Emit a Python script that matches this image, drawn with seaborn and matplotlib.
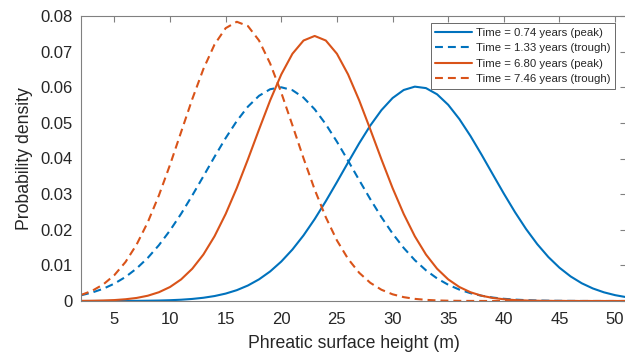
import numpy as np
import pandas as pd
import matplotlib
matplotlib.use("Agg")
import matplotlib.pyplot as plt
from matplotlib.ticker import FuncFormatter
import seaborn as sns

# ---- data ----
height = list(range(2, 52))  # phreatic surface height (m)

t074_peak = [0.00000, 0.00000, 0.00001, 0.00001, 0.00002, 0.00004, 0.00008, 0.00013, 0.00022, 0.00036,
             0.00058, 0.00091, 0.00139, 0.00208, 0.00304, 0.00435, 0.00608, 0.00830, 0.01108, 0.01445,
             0.01843, 0.02299, 0.02802, 0.03338, 0.03888, 0.04427, 0.04926, 0.05358, 0.05697, 0.05923,
             0.06017, 0.05976, 0.05802, 0.05507, 0.05108, 0.04632, 0.04106, 0.03558, 0.03014, 0.02495,
             0.02019, 0.01597, 0.01235, 0.00934, 0.00690, 0.00498, 0.00352, 0.00243, 0.00164, 0.00108]

t133_trough = [0.00160, 0.00238, 0.00344, 0.00488, 0.00675, 0.00914, 0.01210, 0.01566, 0.01981, 0.02450,
               0.02963, 0.03502, 0.04048, 0.04573, 0.05052, 0.05456, 0.05760, 0.05945, 0.05999, 0.05918,
               0.05708, 0.05382, 0.04962, 0.04471, 0.03940, 0.03393, 0.02858, 0.02353, 0.01894, 0.01490,
               0.01146, 0.00862, 0.00634, 0.00456, 0.00320, 0.00220, 0.00148, 0.00097, 0.00062, 0.00039,
               0.00024, 0.00014, 0.00008, 0.00005, 0.00003, 0.00001, 0.00001, 0.00000, 0.00000, 0.00000]

t680_peak = [0.00003, 0.00007, 0.00014, 0.00026, 0.00049, 0.00086, 0.00148, 0.00246, 0.00393, 0.00607,
             0.00906, 0.01305, 0.01817, 0.02443, 0.03171, 0.03976, 0.04815, 0.05632, 0.06361, 0.06940,
             0.07312, 0.07440, 0.07312, 0.06940, 0.06361, 0.05632, 0.04815, 0.03976, 0.03171, 0.02443,
             0.01817, 0.01305, 0.00906, 0.00607, 0.00393, 0.00246, 0.00148, 0.00086, 0.00049, 0.00026,
             0.00014, 0.00007, 0.00003, 0.00002, 0.00001, 0.00000, 0.00000, 0.00000, 0.00000, 0.00000]

t746_trough = [0.00169, 0.00286, 0.00465, 0.00727, 0.01095, 0.01586, 0.02210, 0.02964, 0.03823, 0.04746,
               0.05668, 0.06513, 0.07200, 0.07659, 0.07838, 0.07718, 0.07312, 0.06666, 0.05846, 0.04933,
               0.04005, 0.03128, 0.02351, 0.01700, 0.01183, 0.00792, 0.00510, 0.00316, 0.00188, 0.00108,
               0.00060, 0.00032, 0.00016, 0.00008, 0.00004, 0.00002, 0.00001, 0.00000, 0.00000, 0.00000,
               0.00000, 0.00000, 0.00000, 0.00000, 0.00000, 0.00000, 0.00000, 0.00000, 0.00000, 0.00000]

labels = ["Time = 0.74 years (peak)", "Time = 1.33 years (trough)",
          "Time = 6.80 years (peak)", "Time = 7.46 years (trough)"]
y_ticks = [0, 0.01, 0.02, 0.03, 0.04, 0.05, 0.06, 0.07, 0.08]
x_ticks = [5, 10, 15, 20, 25, 30, 35, 40, 45, 50]

# ---- build long table ----
series = [t074_peak, t133_trough, t680_peak, t746_trough]
df = pd.concat([pd.DataFrame({"height": height, "density": s, "series": lab})
                for s, lab in zip(series, labels)], ignore_index=True)

sns.set_theme(style="white")
plt.rcParams["font.family"] = ["Liberation Sans", "DejaVu Sans"]

blue = "#0072BD"
orange = "#D95319"
palette = {labels[0]: blue, labels[1]: blue, labels[2]: orange, labels[3]: orange}
dash = (3.8, 2.4)
dashes = {labels[0]: "", labels[1]: dash, labels[2]: "", labels[3]: dash}

fig = plt.figure(figsize=(6.25, 3.57), dpi=100)
ax = fig.add_axes([81 / 625, 56 / 357, 1.0 - 81 / 625 + 0.002, 285 / 357])

sns.lineplot(data=df, x="height", y="density", hue="series", style="series",
             palette=palette, dashes=dashes, hue_order=labels, style_order=labels,
             linewidth=1.5, ax=ax, legend=True)

ax.set_xlim(2, 51)
ax.set_ylim(0, 0.08)
ax.set_xticks(x_ticks)
ax.set_yticks(y_ticks)
ax.yaxis.set_major_formatter(FuncFormatter(lambda v, p: "0" if abs(v) < 1e-12 else f"{v:.2f}"))

axis_col = "#262626"
for sp in ax.spines.values():
    sp.set_color("#808080")
    sp.set_linewidth(0.8)
ax.tick_params(direction="in", length=4, width=0.8, color="#808080",
               top=True, right=True, labelsize=12, labelcolor=axis_col)
ax.tick_params(axis="x", pad=8)
ax.tick_params(axis="y", pad=6)

ax.set_xlabel("Phreatic surface height (m)", fontsize=12.7, color=axis_col, labelpad=6)
ax.set_ylabel("Probability density", fontsize=12.7, color=axis_col, labelpad=5)

leg = ax.legend(loc="upper right", bbox_to_anchor=(0.98, 0.975), borderaxespad=0,
                fontsize=8.2, frameon=True, fancybox=False, handlelength=3.2,
                handletextpad=0.4, borderpad=0.4, labelspacing=0.48)
leg.get_frame().set_edgecolor("#262626")
leg.get_frame().set_linewidth(0.6)
for t in leg.get_texts():
    t.set_color(axis_col)

fig.savefig("out.png", dpi=100)
